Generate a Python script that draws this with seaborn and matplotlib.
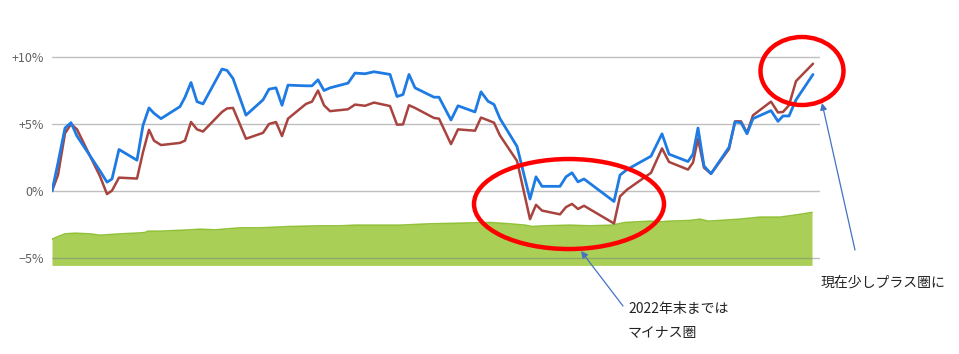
import matplotlib
matplotlib.use("Agg")
import matplotlib.pyplot as plt
from matplotlib.patches import Ellipse, FancyArrowPatch
import seaborn as sns
import pandas as pd

# ---- data ----
t = [52, 58, 65, 71, 77, 100, 107, 112, 119, 137, 143, 149, 154, 161, 180, 185, 191, 197, 203,
     222, 227, 233, 246, 263, 269, 276, 282, 288, 306, 312, 318, 324, 330, 348, 355, 365, 374,
     390, 397, 403, 409, 415, 434, 439, 451, 458, 475, 481, 488, 494, 500, 517, 530, 536, 542,
     560, 566, 572, 578, 584, 614, 620, 627, 651, 662, 669, 688, 693, 698, 704, 711, 729, 735,
     741, 747, 753, 771, 778, 783, 789, 796, 813]
blue = [0.0, 2.1, 4.7, 5.1, 4.1, 1.5, 0.66, 0.9, 3.1, 2.3, 4.9, 6.2, 5.8, 5.4, 6.3, 7.0, 8.1, 6.67, 6.5,
        9.1, 9.0, 8.4, 5.66, 6.8, 7.6, 7.7, 6.4, 7.9, 7.85, 7.85, 8.3, 7.5, 7.7, 8.05, 8.8, 8.75, 8.9,
        8.7, 7.05, 7.2, 8.7, 7.7, 7.0, 7.0, 5.3, 6.36, 5.9, 7.4, 6.7, 6.46, 5.4, 3.33, -0.6, 1.06, 0.35,
        0.35, 1.06, 1.36, 0.68, 0.9, -0.78, 1.19, 1.6, 2.6, 4.27, 2.75, 2.2, 2.75, 4.7, 1.87, 1.29, 3.26, 5.15,
        5.1, 4.27, 5.4, 6.0, 5.2, 5.6, 5.6, 6.8, 8.7]
red = [0.0, 1.2, 4.3, 5.0, 4.6, 1.1, -0.23, 0.03, 1.0, 0.93, 2.9, 4.57, 3.76, 3.43, 3.59, 3.76, 5.15, 4.6, 4.44,
       5.9, 6.16, 6.2, 3.9, 4.34, 5.0, 5.15, 4.1, 5.4, 6.5, 6.67, 7.5, 6.4, 5.96, 6.1, 6.45, 6.36, 6.6,
       6.34, 4.95, 4.97, 6.4, 6.2, 5.45, 5.4, 3.5, 4.6, 4.5, 5.48, 5.28, 5.1, 4.14, 2.25, -2.1, -1.03, -1.46,
       -1.74, -1.2, -0.96, -1.34, -1.1, -2.42, -0.4, 0.1, 1.36, 3.18, 2.17, 1.6, 2.12, 3.9, 1.74, 1.29, 3.13, 5.2,
       5.2, 4.34, 5.65, 6.67, 5.86, 5.9, 6.4, 8.2, 9.5]

t_area = [52, 58, 65, 75, 90, 100, 110, 120, 135, 145, 148, 160, 190, 200, 215, 240, 260, 290, 320,
          340, 355, 380, 400, 430, 460, 490, 510, 525, 532, 545, 570, 590, 612, 625, 650, 661, 670,
          690, 700, 708, 720, 740, 760, 780, 795, 812]
area = [-3.6, -3.4, -3.2, -3.15, -3.2, -3.3, -3.25, -3.2, -3.15, -3.1, -3.0, -3.0, -2.9, -2.85, -2.9,
        -2.75, -2.75, -2.65, -2.6, -2.6, -2.55, -2.55, -2.55, -2.45, -2.4, -2.35, -2.45, -2.55, -2.65,
        -2.6, -2.55, -2.6, -2.55, -2.35, -2.25, -2.3, -2.25, -2.2, -2.1, -2.25, -2.2, -2.1, -1.95,
        -1.95, -1.8, -1.6]

yticks = [-5, 0, 5, 10]
ytick_labels = ["−5%", "0%", "+5%", "+10%"]

note1_lines = ["2022年末までは", "マイナス圏"]
note2 = "現在少しプラス圏に"

# ---- style ----
sns.set_theme(style="white")
plt.rcParams["font.family"] = ["Noto Sans CJK JP", "DejaVu Sans"]

W, H = 959, 354
fig = plt.figure(figsize=(W / 100, H / 100), dpi=100)
YMIN, YMAX = -5.55, 12.0
ax = fig.add_axes([52 / W, 1 - 265.4 / H, (820 - 52) / W, (265.4 - 30.2) / H])

df = pd.DataFrame({"t": t, "blue": blue, "red": red})
dfa = pd.DataFrame({"t": t_area, "area": area})

ax.fill_between(dfa["t"], dfa["area"], YMIN, color="#a9cf57", lw=0, zorder=1)
sns.lineplot(data=dfa, x="t", y="area", ax=ax, color="#93c23a", lw=1.2, zorder=2)
sns.lineplot(data=df, x="t", y="red", ax=ax, color="#a8443f", lw=1.8, zorder=4)
sns.lineplot(data=df, x="t", y="blue", ax=ax, color="#1e7be3", lw=2.0, zorder=5)

ax.set_xlim(52, 820)
ax.set_ylim(YMIN, YMAX)
ax.set_yticks(yticks)
ax.set_yticklabels(ytick_labels)
ax.set_xticks([])
ax.set_xlabel("")
ax.set_ylabel("")
ax.tick_params(axis="y", length=0, pad=6, labelsize=9, labelcolor="#606060")
ax.yaxis.grid(True, color="#808080", alpha=0.5, lw=1)
ax.set_axisbelow(False)
for gl in ax.get_ygridlines():
    gl.set_zorder(3)
for s in ax.spines.values():
    s.set_visible(False)
ax.patch.set_alpha(0)

# ---- ellipses (data coords) ----
px = 13.4  # pixels per percent
e1 = Ellipse((569, (191 - 204) / px), 190, 90 / px, fill=False, ec="#ff0000", lw=3.2,
             zorder=6, clip_on=False)
e2 = Ellipse((802, (191 - 71) / px), 83, 68 / px, fill=False, ec="#ff0000", lw=3.2,
             zorder=6, clip_on=False)
ax.add_patch(e1)
ax.add_patch(e2)

def fp(x, y):
    return (x / W, 1 - y / H)

arrow = dict(arrowstyle="-|>", color="#4472c4", lw=0.9, mutation_scale=10, shrinkA=0, shrinkB=0)
fig.add_artist(FancyArrowPatch(fp(623, 306), fp(581, 251), **arrow))
fig.add_artist(FancyArrowPatch(fp(855, 250), fp(822, 103), **arrow))

fig.text(*fp(628, 309), note1_lines[0], fontsize=10, color="#222222", va="center", ha="left")
fig.text(*fp(628, 333), note1_lines[1], fontsize=10, color="#222222", va="center", ha="left")
fig.text(*fp(821, 283), note2, fontsize=10, color="#222222", va="center", ha="left")

fig.savefig("out.png", dpi=100)
